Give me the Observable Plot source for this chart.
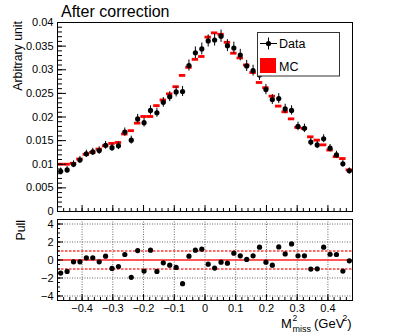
<!DOCTYPE html>
<html><head><meta charset="utf-8">
<script src="https://cdn.jsdelivr.net/npm/d3@7"></script>
<script src="https://cdn.jsdelivr.net/npm/@observablehq/plot@0.6"></script>
<style>
body{margin:0;background:#fff;}
#wrap{position:relative;width:409px;height:336px;overflow:hidden;background:#fff;font-family:"Liberation Sans",Arial,Helvetica,sans-serif;}
#wrap > svg{position:absolute;left:0;}
</style></head><body><div id="wrap"></div>
<script>
// ---- data ----
const binCenters = [-0.4696,-0.4487,-0.4278,-0.4070,-0.3861,-0.3652,-0.3443,-0.3235,-0.3026,-0.2817,
  -0.2609,-0.2400,-0.2191,-0.1983,-0.1774,-0.1565,-0.1357,-0.1148,-0.0939,-0.0730,
  -0.0522,-0.0313,-0.0104,0.0104,0.0313,0.0522,0.0730,0.0939,0.1148,0.1357,
  0.1565,0.1774,0.1983,0.2191,0.2400,0.2609,0.2817,0.3026,0.3235,0.3443,
  0.3652,0.3861,0.4070,0.4278,0.4487,0.4696];
const dataValues = [0.0085,0.0088,0.0100,0.0109,0.0122,0.0126,0.0129,0.0140,0.0135,0.0139,
  0.0168,0.0151,0.0196,0.0188,0.0214,0.0209,0.0231,0.0243,0.0253,0.0254,
  0.0309,0.0336,0.0344,0.0361,0.0363,0.0371,0.0351,0.0346,0.0331,0.0308,
  0.0298,0.0289,0.0258,0.0237,0.0239,0.0217,0.0214,0.0180,0.0176,0.0147,
  0.0141,0.0154,0.0134,0.0120,0.0101,0.0086];
const dataErrors = [0.00070,0.00070,0.00072,0.00074,0.00076,0.00077,0.00079,0.00082,0.00080,0.00081,
  0.00088,0.00084,0.00095,0.00093,0.00098,0.00097,0.00102,0.00105,0.00107,0.00107,
  0.00118,0.00123,0.00125,0.00128,0.00129,0.00130,0.00126,0.00125,0.00122,0.00118,
  0.00116,0.00114,0.00108,0.00104,0.00105,0.00100,0.00099,0.00091,0.00090,0.00082,
  0.00080,0.00084,0.00078,0.00074,0.00068,0.00062];
const mcValues = [0.0099,0.0099,0.0101,0.0110,0.0120,0.0124,0.0131,0.0138,0.0143,0.0145,
  0.0163,0.0170,0.0186,0.0200,0.0200,0.0223,0.0235,0.0248,0.0263,0.0287,
  0.0304,0.0321,0.0327,0.0368,0.0377,0.0374,0.0357,0.0334,0.0324,0.0309,
  0.0293,0.0272,0.0261,0.0243,0.0222,0.0210,0.0195,0.0177,0.0175,0.0157,
  0.0150,0.0140,0.0129,0.0115,0.0111,0.0087];
const mcErrors = [0.0003,0.0003,0.0003,0.0003,0.0003,0.0003,0.0003,0.0003,0.0003,0.0003,
  0.0003,0.0003,0.0003,0.0003,0.0003,0.0003,0.0003,0.0003,0.0003,0.0003,
  0.0003,0.0003,0.0003,0.0003,0.0003,0.0003,0.0003,0.0003,0.0003,0.0003,
  0.0003,0.0003,0.0003,0.0003,0.0003,0.0003,0.0003,0.0003,0.0003,0.0003,
  0.0003,0.0003,0.0003,0.0003,0.0003,0.0003];
const pullValues = [-1.45,-1.27,-0.20,-0.20,0.24,0.24,-0.20,0.42,-0.94,-0.72,
  0.61,-1.93,1.05,-1.23,1.09,-1.27,-0.31,-0.57,-0.83,-2.63,
  0.42,1.09,1.20,-0.46,-0.90,-0.24,-0.35,0.76,0.46,0.06,
  0.46,1.42,-0.24,-0.57,1.45,0.68,1.79,0.46,0.46,-1.01,
  -0.98,1.42,0.64,0.61,-1.23,-0.09];
const xRange = [-0.48, 0.48];
const yTickValues = [0,0.005,0.01,0.015,0.02,0.025,0.03,0.035,0.04];
const xTickValues = [-0.4,-0.3,-0.2,-0.1,0,0.1,0.2,0.3,0.4];
const pullTickValues = [-4,-2,0,2,4];
const pullBands = [-1, 1];

// ---- layout ----
const W = 409, ML = 57, MR = 57, FW = W - ML - MR;
const upTop = 22, upH = 189, upSvgH = 224;
const loTop = 5, loH = 81;
const halfBin = (xRange[1] - xRange[0]) / binCenters.length / 2;
const bins = binCenters.map((x, i) => ({x, lo: x - halfBin, hi: x + halfBin,
  v: dataValues[i], e: dataErrors[i], mc: mcValues[i], me: mcErrors[i], p: pullValues[i]}));
const font = "'Liberation Sans', Arial, Helvetica, sans-serif";
const xMinor = d3.range(-46, 47, 2).map(v => v / 100);
const yMinor = d3.range(0, 41, 1).map(v => v / 1000);
const pMinor = d3.range(-9, 10, 1).map(v => v / 2);

const upper = Plot.plot({
  width: W, height: upSvgH, marginLeft: ML, marginRight: MR, marginTop: upTop, marginBottom: upSvgH - upTop - upH,
  style: {fontFamily: font, fontSize: "11px", background: "transparent", color: "#000"},
  x: {domain: xRange, axis: null},
  y: {domain: [0, 0.04], ticks: yTickValues, tickSize: 0, tickPadding: 4, label: null,
      tickFormat: d => d === 0 ? "0" : String(+d.toFixed(3))},
  marks: [
    Plot.rect(bins, {x1: "lo", x2: "hi", y1: d => d.mc - d.me, y2: d => d.mc + d.me, fill: "#ff0000"}),
    Plot.ruleX(bins, {x: "x", y1: d => d.v - d.e, y2: d => d.v + d.e, stroke: "#000", strokeWidth: 1}),
    Plot.dot(bins, {x: "x", y: "v", r: 2.6, fill: "#000"}),
    Plot.tickY(yMinor, {y: d => d, insetRight: FW - 5, stroke: "#000"}),
    Plot.tickY(yTickValues, {y: d => d, insetRight: FW - 9, stroke: "#000"}),
    Plot.tickX(xMinor, {x: d => d, insetTop: upH - 3, stroke: "#000"}),
    Plot.tickX(xTickValues, {x: d => d, insetTop: upH - 6, stroke: "#000"}),
    Plot.frame({stroke: "#000"})
  ]
});
upper.style.top = "0px";

const lower = Plot.plot({
  width: W, height: 122, marginLeft: ML, marginRight: MR, marginTop: loTop, marginBottom: 122 - loTop - loH,
  style: {fontFamily: font, fontSize: "11px", background: "transparent", color: "#000"},
  x: {domain: xRange, ticks: xTickValues, tickSize: 0, tickPadding: 4, label: null,
      tickFormat: d => Math.abs(d) < 1e-9 ? "0" : d3.format(".1f")(d)},
  y: {domain: [-4.5, 4.5], ticks: pullTickValues, tickSize: 0, tickPadding: 4, label: null,
      tickFormat: d3.format("d")},
  marks: [
    Plot.ruleX(xTickValues, {x: d => d, stroke: "#666", strokeWidth: 1, strokeDasharray: "1,1.5"}),
    Plot.ruleY(pullTickValues.filter(d => d !== 0), {y: d => d, stroke: "#666", strokeWidth: 1, strokeDasharray: "1,1.5"}),
    Plot.ruleY([0], {y: d => d, stroke: "#ff2020", strokeWidth: 1.7}),
    Plot.ruleY(pullBands, {y: d => d, stroke: "#ff3a3a", strokeWidth: 1.7, strokeDasharray: "2.5,1.5"}),
    Plot.dot(bins, {x: "x", y: "p", r: 2.6, fill: "#000"}),
    Plot.tickY(pMinor, {y: d => d, insetRight: FW - 3, stroke: "#000"}),
    Plot.tickY(pullTickValues, {y: d => d, insetRight: FW - 6, stroke: "#000"}),
    Plot.tickX(xMinor, {x: d => d, insetTop: loH - 3, stroke: "#000"}),
    Plot.tickX(xTickValues, {x: d => d, insetTop: loH - 6, stroke: "#000"}),
    Plot.frame({stroke: "#000"})
  ]
});
lower.style.top = "214px";

const wrap = document.getElementById("wrap");
wrap.appendChild(upper);
wrap.appendChild(lower);

// ---- overlay: titles and legend ----
const ns = "http://www.w3.org/2000/svg";
const ov = document.createElementNS(ns, "svg");
ov.setAttribute("width", W); ov.setAttribute("height", 336);
ov.style.position = "absolute"; ov.style.top = "0px"; ov.style.left = "0px";
ov.style.fontFamily = font;
function el(tag, attrs, text) {
  const e = document.createElementNS(ns, tag);
  for (const k in attrs) e.setAttribute(k, attrs[k]);
  if (text != null) e.textContent = text;
  ov.appendChild(e); return e;
}
el("text", {x: 61, y: 17, "font-size": 16}, "After correction");
el("text", {x: 0, y: 0, "font-size": 12.3, "text-anchor": "end", transform: "translate(22,21) rotate(-90)"}, "Arbitrary unit");
el("text", {x: 0, y: 0, "font-size": 12.3, "text-anchor": "end", transform: "translate(24.5,220) rotate(-90)"}, "Pull");
// x-axis title  M^2_miss (GeV^2)
el("text", {x: 281, y: 327.5, "font-size": 13}, "M");
el("text", {x: 292.5, y: 321, "font-size": 8.5}, "2");
el("text", {x: 292.5, y: 332, "font-size": 9}, "miss");
el("text", {x: 314, y: 327.5, "font-size": 13}, "(GeV");
el("text", {x: 342.5, y: 321, "font-size": 8.5}, "2");
el("text", {x: 347.3, y: 327.5, "font-size": 13}, ")");
// legend
el("rect", {x: 257.5, y: 32.5, width: 82, height: 43.5, fill: "#fff", stroke: "#333", "stroke-width": 1});
el("line", {x1: 260, x2: 277, y1: 43.5, y2: 43.5, stroke: "#000", "stroke-width": 1});
el("line", {x1: 268.5, x2: 268.5, y1: 37.5, y2: 49.5, stroke: "#000", "stroke-width": 1});
el("circle", {cx: 268.5, cy: 43.5, r: 2.6, fill: "#000"});
el("text", {x: 279, y: 48.3, "font-size": 12.5}, "Data");
el("rect", {x: 260, y: 58, width: 16, height: 15, fill: "#ff0000"});
el("text", {x: 279, y: 71, "font-size": 12.5}, "MC");
wrap.appendChild(ov);
</script></body></html>
